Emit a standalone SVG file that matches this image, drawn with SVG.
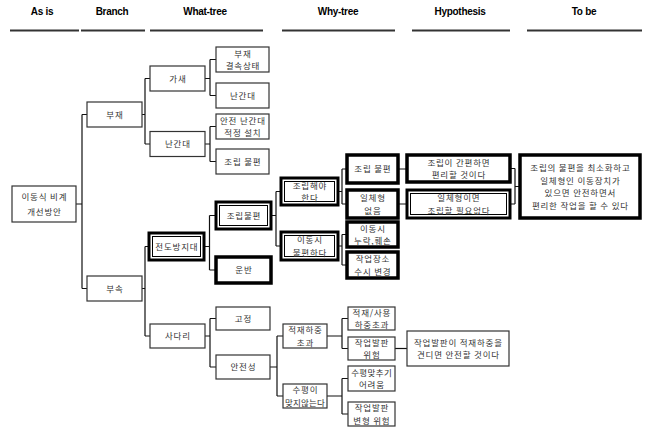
<svg xmlns="http://www.w3.org/2000/svg" width="647" height="427" viewBox="0 0 647 427">
<style>
.bg{fill:#fff}
.n{fill:#fff;stroke:#333;stroke-width:1.2}
.tk{fill:#fff;stroke:#000;stroke-width:3.5}
.db{fill:#fff;stroke:#000;stroke-width:3}
.in{fill:none;stroke:#000;stroke-width:1}
.t{font-family:"Noto Sans CJK KR","Noto Sans",sans-serif;font-size:8.5px;letter-spacing:0.8px;fill:#333;text-anchor:middle}
.h{font-family:"Liberation Sans",Arial,sans-serif;font-size:10px;font-weight:bold;fill:#000;text-anchor:middle;letter-spacing:-0.3px}
.hl{stroke:#333;stroke-width:1.8}
.c{fill:none;stroke:#111;stroke-width:1.2}
</style>
<rect class="bg" width="647" height="427"/>
<g id="headers">
<text class="h" x="42" y="15">As is</text>
<text class="h" x="112" y="15">Branch</text>
<text class="h" x="205" y="15">What-tree</text>
<text class="h" x="338" y="15">Why-tree</text>
<text class="h" x="460" y="15">Hypothesis</text>
<text class="h" x="584" y="15">To be</text>
<line class="hl" x1="10" y1="30.5" x2="79" y2="30.5"/>
<line class="hl" x1="81" y1="30.5" x2="145" y2="30.5"/>
<line class="hl" x1="150" y1="30.5" x2="263" y2="30.5"/>
<line class="hl" x1="282" y1="30.5" x2="395" y2="30.5"/>
<line class="hl" x1="412" y1="30.5" x2="510" y2="30.5"/>
<line class="hl" x1="527" y1="30.5" x2="642" y2="30.5"/>
</g>
<g id="connectors">
<path class="c" d="M76 204H82M82 114.5V288.5M82 114.5H87M82 288.5H87"/>
<path class="c" d="M142 114.5H145M145 78.5V144M145 78.5H150M145 144H150"/>
<path class="c" d="M205 78.5H210M210 59.5V95.5M210 59.5H216M210 95.5H216"/>
<path class="c" d="M205 144H210M210 126.5V161.5M210 126.5H216M210 161.5H216"/>
<path class="c" d="M142 288.5H145M145 246.5V336M145 246.5H149M145 336H150"/>
<path class="c" d="M204 246.5H209.5M209.5 215.5V270M209.5 215.5H216M209.5 270H216"/>
<path class="c" d="M205 336H210M210 318.5V367M210 318.5H216M210 367H216"/>
<path class="c" d="M271 215.5H276M276 191.5V246M276 191.5H281M276 246H281"/>
<path class="c" d="M338 191.5H342M342 169V204M342 169H347M342 204H347"/>
<path class="c" d="M338 246H342M342 234.5V265M342 234.5H347M342 265H347"/>
<path class="c" d="M270 367H277M277 336V396M277 336H283M277 396H283"/>
<path class="c" d="M327 336H342M342 318.5V348.5M342 318.5H348M342 348.5H348"/>
<path class="c" d="M327 396H342M342 378.5V414M342 378.5H348M342 414H348"/>
<path class="c" d="M395 348.5H407"/>
<path class="c" d="M398 169H407M398 204H407"/>
<path class="c" d="M510 168.5H515M510 204H515M515 168.5V204M515 186.5H520"/>
</g>
<g id="root">
<rect class="n" x="12" y="186" width="64" height="36"/>
<text class="t" x="44.4" y="200">이동식 비계</text>
<text class="t" x="44.4" y="215">개선방안</text>
</g>
<g id="bujae">
<rect class="n" x="87" y="102" width="55" height="25"/>
<text class="t" x="114.9" y="117.7">부재</text>
</g>
<g id="busok">
<rect class="n" x="87" y="276" width="55" height="25"/>
<text class="t" x="114.9" y="291.7">부속</text>
</g>
<g id="gasae">
<rect class="n" x="150" y="66" width="55" height="25"/>
<text class="t" x="177.9" y="81.7">가새</text>
</g>
<g id="nangandae">
<rect class="n" x="150" y="131.5" width="55" height="25"/>
<text class="t" x="177.9" y="147.2">난간대</text>
</g>
<g id="gyeolsok">
<rect class="n" x="216" y="47" width="53" height="25"/>
<text class="t" x="242.9" y="56.5">부재</text>
<text class="t" x="242.9" y="69">결속상태</text>
</g>
<g id="nangandae2">
<rect class="n" x="216" y="83" width="53" height="25"/>
<text class="t" x="242.9" y="98.7">난간대</text>
</g>
<g id="jeokjeong">
<rect class="n" x="216" y="114" width="53" height="25"/>
<text class="t" x="242.9" y="123.5">안전 난간대</text>
<text class="t" x="242.9" y="136">적정 설치</text>
</g>
<g id="jorip1">
<rect class="n" x="216" y="149" width="53" height="25"/>
<text class="t" x="242.9" y="164.7">조립 불편</text>
</g>
<g id="jeondo">
<rect class="db" x="149" y="233" width="55" height="27"/>
<rect class="in" x="152.5" y="236.5" width="48" height="20"/>
<text class="t" x="176.9" y="249.7">전도방지대</text>
</g>
<g id="sadari">
<rect class="n" x="150" y="324" width="55" height="24"/>
<text class="t" x="177.9" y="339.2">사다리</text>
</g>
<g id="joripbulpyeon">
<rect class="db" x="216" y="202" width="55" height="27"/>
<rect class="in" x="219.5" y="205.5" width="48" height="20"/>
<text class="t" x="243.9" y="218.7">조립불편</text>
</g>
<g id="unban">
<rect class="tk" x="216" y="257" width="55" height="26"/>
<text class="t" x="243.9" y="273.2">운반</text>
</g>
<g id="gojeong">
<rect class="n" x="216" y="307" width="54" height="23"/>
<text class="t" x="243.4" y="321.7">고정</text>
</g>
<g id="anjeonseong">
<rect class="n" x="216" y="355" width="54" height="24"/>
<text class="t" x="243.4" y="370.2">안전성</text>
</g>
<g id="joriphaeya">
<rect class="db" x="281" y="178" width="57" height="27"/>
<rect class="in" x="284.5" y="181.5" width="50" height="20"/>
<text class="t" x="309.9" y="188.5">조립해야</text>
<text class="t" x="309.9" y="201">한다</text>
</g>
<g id="idongsi">
<rect class="db" x="281" y="232" width="57" height="28"/>
<rect class="in" x="284.5" y="235.5" width="50" height="21"/>
<text class="t" x="309.9" y="243">이동시</text>
<text class="t" x="309.9" y="255.5">불편하다</text>
</g>
<g id="why-jorip">
<rect class="tk" x="347" y="155" width="51" height="28"/>
<text class="t" x="372.9" y="172.2">조립 불편</text>
</g>
<g id="why-ilche">
<rect class="tk" x="347" y="190" width="51" height="28"/>
<text class="t" x="372.9" y="201">일체형</text>
<text class="t" x="372.9" y="213.5">없음</text>
</g>
<g id="why-nurak">
<rect class="tk" x="347" y="222" width="51" height="25"/>
<text class="t" x="372.9" y="231.5">이동시</text>
<text class="t" x="372.9" y="244">누락,훼손</text>
</g>
<g id="why-jageop">
<rect class="tk" x="347" y="252" width="51" height="26"/>
<text class="t" x="372.9" y="262">작업장소</text>
<text class="t" x="372.9" y="274.5">수시 변경</text>
</g>
<g id="jeokjae">
<rect class="n" x="283" y="324" width="44" height="24"/>
<text class="t" x="305.4" y="333">적재하중</text>
<text class="t" x="305.4" y="345.5">초과</text>
</g>
<g id="supyeong">
<rect class="n" x="283" y="384" width="44" height="24"/>
<text class="t" x="305.4" y="393">수평이</text>
<text class="t" x="305.1" y="405.5" style="letter-spacing:0.2px">맞지않는다</text>
</g>
<g id="jeokjae-sayong">
<rect class="n" x="348" y="307" width="47" height="23"/>
<text class="t" x="371.9" y="315.5">적재/사용</text>
<text class="t" x="371.9" y="328">하중초과</text>
</g>
<g id="balpan-wiheom">
<rect class="n" x="348" y="337" width="47" height="23"/>
<text class="t" x="371.9" y="345.5">작업발판</text>
<text class="t" x="371.9" y="358">위험</text>
</g>
<g id="supyeong-eoryeoum">
<rect class="n" x="348" y="366" width="47" height="25"/>
<text class="t" x="371.7" y="375.5" style="letter-spacing:0.4px">수평맞추기</text>
<text class="t" x="371.9" y="388">어려움</text>
</g>
<g id="balpan-byeonhyeong">
<rect class="n" x="348" y="402" width="47" height="24"/>
<text class="t" x="371.9" y="411">작업발판</text>
<text class="t" x="371.9" y="423.5">변형 위험</text>
</g>
<g id="hyp-balpan">
<rect class="n" x="407" y="331" width="102" height="35"/>
<text class="t" x="458.4" y="345.5">작업발판이 적재하중을</text>
<text class="t" x="458.4" y="358">견디면 안전할 것이다</text>
</g>
<g id="hyp-jorip">
<rect class="tk" x="407" y="155" width="103" height="27"/>
<text class="t" x="458.9" y="165.5">조립이 간편하면</text>
<text class="t" x="458.9" y="178">편리할 것이다</text>
</g>
<g id="hyp-ilche">
<rect class="db" x="407" y="190" width="103" height="28"/>
<rect class="in" x="410.5" y="193.5" width="96" height="21"/>
<text class="t" x="458.9" y="201">일체형이면</text>
<text class="t" x="458.9" y="213.5">조립할 필요없다</text>
</g>
<g id="tobe">
<rect class="tk" x="520" y="155" width="120" height="63"/>
<text class="t" x="580.4" y="171">조립의 불편을 최소화하고</text>
<text class="t" x="580.4" y="183.5">일체형인 이동장치가</text>
<text class="t" x="580.4" y="196">있으면 안전하면서</text>
<text class="t" x="580.4" y="208.5">편리한 작업을 할 수 있다</text>
</g>
</svg>
